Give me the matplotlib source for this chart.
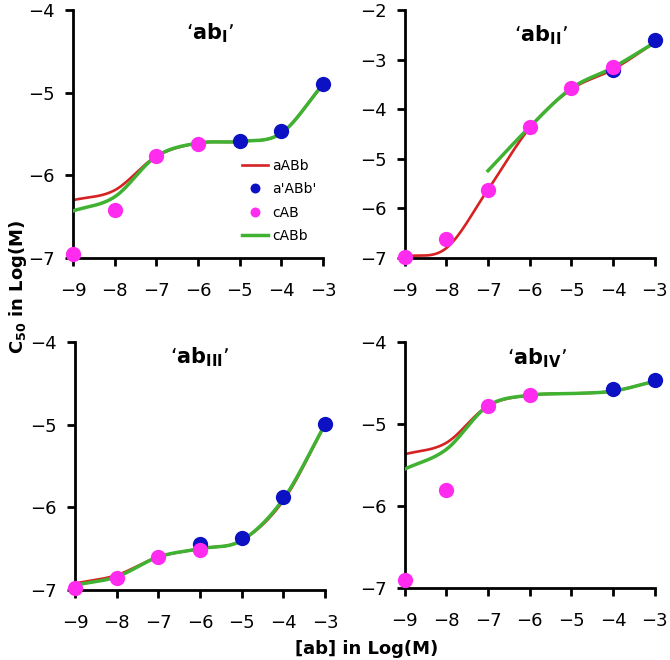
import matplotlib
matplotlib.use("Agg")
import matplotlib.pyplot as plt
import numpy as np

x = [-9, -8, -7, -6, -5, -4, -3]

# panel 1: 'ab_I'
p1_red = [-6.30, -6.18, -5.77, -5.61, -5.59, -5.49, -4.90]
p1_green = [-6.43, -6.26, -5.77, -5.61, -5.59, -5.49, -4.90]
p1_blue_x = [-5, -4, -3]
p1_blue = [-5.59, -5.47, -4.90]
p1_mag_x = [-9, -8, -7, -6]
p1_mag = [-6.95, -6.42, -5.77, -5.62]

# panel 2: 'ab_II'
p2_red = [-6.97, -6.80, -5.62, -4.38, -3.60, -3.20, -2.66]
p2_green_x = [-7, -6, -5, -4, -3]
p2_green = [-5.24, -4.36, -3.58, -3.16, -2.66]
p2_blue_x = [-4, -3]
p2_blue = [-3.22, -2.60]
p2_mag_x = [-9, -8, -7, -6, -5, -4]
p2_mag = [-6.97, -6.62, -5.62, -4.36, -3.58, -3.15]

# panel 3: 'ab_III'
p3_red = [-6.92, -6.82, -6.60, -6.50, -6.40, -5.92, -5.00]
p3_green = [-6.94, -6.84, -6.60, -6.50, -6.40, -5.90, -5.00]
p3_blue_x = [-6, -5, -4, -3]
p3_blue = [-6.44, -6.37, -5.87, -4.99]
p3_mag_x = [-9, -8, -7, -6]
p3_mag = [-6.97, -6.85, -6.60, -6.51]

# panel 4: 'ab_IV'
p4_red = [-5.37, -5.23, -4.78, -4.65, -4.63, -4.60, -4.48]
p4_green = [-5.55, -5.31, -4.78, -4.65, -4.63, -4.60, -4.48]
p4_blue_x = [-4, -3]
p4_blue = [-4.58, -4.47]
p4_mag_x = [-9, -8, -7, -6]
p4_mag = [-6.90, -5.80, -4.78, -4.65]

RED = "#d62222"
GREEN = "#3fb232"
BLUE = "#0c12c4"
MAGENTA = "#ff2cf0"


def smooth(xs, ys, n=30):
    """Catmull-Rom curve through the points (like Excel smoothed lines)."""
    xs = np.asarray(xs, float)
    ys = np.asarray(ys, float)
    px = np.concatenate([[2 * xs[0] - xs[1]], xs, [2 * xs[-1] - xs[-2]]])
    py = np.concatenate([[2 * ys[0] - ys[1]], ys, [2 * ys[-1] - ys[-2]]])
    t = np.linspace(0, 1, n)
    ox, oy = [], []
    for i in range(1, len(px) - 2):
        for p, out in ((px, ox), (py, oy)):
            p0, p1, p2, p3 = p[i - 1], p[i], p[i + 1], p[i + 2]
            out.extend(0.5 * (2 * p1 + (-p0 + p2) * t
                              + (2 * p0 - 5 * p1 + 4 * p2 - p3) * t ** 2
                              + (-p0 + 3 * p1 - 3 * p2 + p3) * t ** 3))
    return ox, oy


panels = [
    dict(title=r"‘ab$_{\mathbf{I}}$’", tpos=(0.548, 0.907),
         ylim=(-7, -4), yticks=[-7, -6, -5, -4],
         red=(x, p1_red), green=(x, p1_green), blue=(p1_blue_x, p1_blue),
         mag=(p1_mag_x, p1_mag), rect=[0.109, 0.609, 0.373, 0.376]),
    dict(title=r"‘ab$_{\mathbf{II}}$’", tpos=(0.545, 0.90),
         ylim=(-7, -2), yticks=[-7, -6, -5, -4, -3, -2],
         red=(x, p2_red), green=(p2_green_x, p2_green), blue=(p2_blue_x, p2_blue),
         mag=(p2_mag_x, p2_mag), rect=[0.604, 0.609, 0.373, 0.376]),
    dict(title=r"‘ab$_{\mathbf{III}}$’", tpos=(0.50, 0.94),
         ylim=(-7, -4), yticks=[-7, -6, -5, -4],
         red=(x, p3_red), green=(x, p3_green), blue=(p3_blue_x, p3_blue),
         mag=(p3_mag_x, p3_mag), rect=[0.112, 0.106, 0.373, 0.376]),
    dict(title=r"‘ab$_{\mathbf{IV}}$’", tpos=(0.53, 0.935),
         ylim=(-7, -4), yticks=[-7, -6, -5, -4],
         red=(x, p4_red), green=(x, p4_green), blue=(p4_blue_x, p4_blue),
         mag=(p4_mag_x, p4_mag), rect=[0.604, 0.109, 0.373, 0.373]),
]

fig = plt.figure(figsize=(6.7, 6.6), dpi=100)

for i, p in enumerate(panels):
    ax = fig.add_axes(p["rect"])
    ax.plot(*smooth(*p["red"]), color=RED, lw=1.9, label="aABb", zorder=2)
    ax.plot(*smooth(*p["green"]), color=GREEN, lw=2.5, label="cABb", zorder=3)
    ax.plot(*p["blue"], "o", color=BLUE, ms=11, mec="none", label="a'ABb'",
            clip_on=False, zorder=4)
    ax.plot(*p["mag"], "o", color=MAGENTA, ms=11, mec="none", label="cAB",
            clip_on=False, zorder=5)

    ax.set_xlim(-9, -3)
    ax.set_ylim(*p["ylim"])
    ax.set_xticks(x)
    ax.set_yticks(p["yticks"])
    ax.tick_params(labelsize=13, width=2, length=6, direction="out", pad=7)
    ax.tick_params(axis="x", pad=11)
    for side in ("top", "right"):
        ax.spines[side].set_visible(False)
    for side in ("left", "bottom"):
        ax.spines[side].set_linewidth(2)
    ax.text(*p["tpos"], p["title"], transform=ax.transAxes, ha="center",
            va="center", fontsize=15, fontweight="bold")

    if i == 0:
        h, l = ax.get_legend_handles_labels()
        order = [0, 2, 3, 1]
        ax.legend([h[k] for k in order], [l[k] for k in order],
                  loc="upper left", bbox_to_anchor=(0.676, 0.40),
                  frameon=False, fontsize=10, handlelength=1.9,
                  handletextpad=0.3, labelspacing=0.68, markerscale=0.65,
                  borderpad=0, borderaxespad=0)

fig.text(0.547, 0.017, "[ab] in Log(M)", ha="center", va="center",
         fontsize=13, fontweight="bold")
fig.text(0.027, 0.565, r"C$_{\mathbf{50}}$ in Log(M)", ha="center", va="center",
         rotation=90, fontsize=13, fontweight="bold")

fig.savefig("out.png", dpi=100)
